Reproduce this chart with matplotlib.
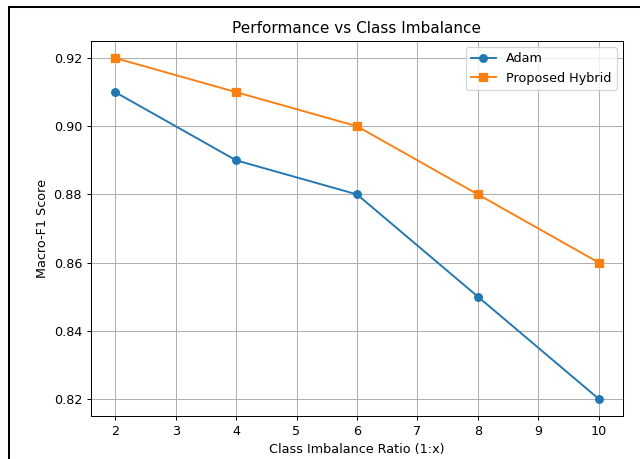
import matplotlib.pyplot as plt
from matplotlib.lines import Line2D

# 資料
ratios = [2, 4, 6, 8, 10]
adam = [0.91, 0.89, 0.88, 0.85, 0.82]
hybrid = [0.92, 0.91, 0.90, 0.88, 0.86]

dpi = 640 / 7
fig = plt.figure(figsize=(7, 459 / dpi), dpi=dpi)
ax = fig.add_axes([91/640, 1 - 416/459, (623 - 91)/640, (416 - 41)/459])

ax.plot(ratios, adam, marker='o', label='Adam')
ax.plot(ratios, hybrid, marker='s', label='Proposed Hybrid')

ax.set_title('Performance vs Class Imbalance')
ax.set_xlabel('Class Imbalance Ratio (1:x)')
ax.set_ylabel('Macro-F1 Score')
ax.grid(True)
ax.legend()

# 外框（截圖邊框）
x0 = 9/640
y0 = 1 - 7/459
fig.add_artist(Line2D([x0, x0], [0, y0], color='black', linewidth=1.6, transform=fig.transFigure))
fig.add_artist(Line2D([x0, 1], [y0, y0], color='black', linewidth=1.6, transform=fig.transFigure))

fig.savefig('out.png', dpi=dpi)
